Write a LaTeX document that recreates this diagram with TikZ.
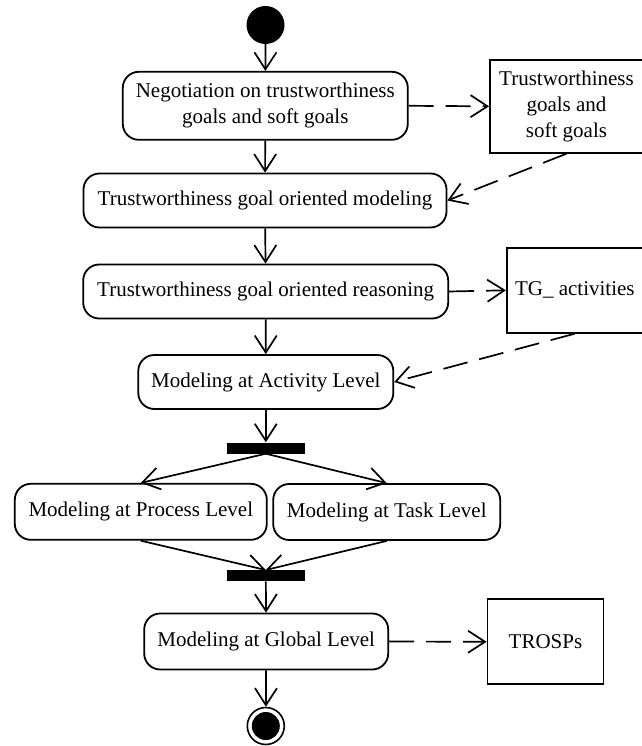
\documentclass[tikz,border=0pt]{standalone}
\usepackage{fontspec}
\setmainfont{Liberation Serif}
\usetikzlibrary{arrows.meta}
\begin{document}
\begin{tikzpicture}[x=1pt,y=-1pt,
  every node/.style={font=\fontsize{21}{26}\selectfont},
  act/.style={draw, line width=1.8pt, rounded corners=16pt, align=center, inner sep=0pt},
  obj/.style={draw, line width=1.8pt, align=center, inner sep=0pt},
  bar/.style={fill=black, inner sep=0pt, minimum width=78pt, minimum height=11pt},
  flow/.style={line width=1.7pt, -{Straight Barb[length=17pt,width=22pt]}},
  dep/.style={flow, dash pattern=on 25pt off 12pt}]
\useasboundingbox (0,0) rectangle (641,746);
% initial and final
\node[circle, fill=black, minimum size=38pt, inner sep=0pt] (start) at (265.5,25) {};
\node[circle, draw, line width=1.6pt, minimum size=37pt, inner sep=0pt] (final) at (265.8,726) {};
\node[circle, fill=black, minimum size=28pt, inner sep=0pt] (finalin) at (265.8,726) {};
% activities
\node[act, minimum width=285pt, minimum height=68pt] (n1) at (265.3,105.8) {Negotiation on trustworthiness\\goals and soft goals};
\node[act, minimum width=363pt, minimum height=54pt] (n2) at (265,200.5) {Trustworthiness goal oriented modeling};
\node[act, minimum width=365pt, minimum height=54pt] (n3) at (265.7,291.5) {Trustworthiness goal oriented reasoning};
\node[act, minimum width=255pt, minimum height=54pt] (n4) at (265.8,382) {Modeling at Activity Level};
\node[bar] (fork) at (265.8,448) {};
\node[act, minimum width=252pt, minimum height=56pt] (np) at (140.8,511.8) {Modeling at Process Level};
\node[act, minimum width=227pt, minimum height=56pt] (nt) at (386.7,512) {Modeling at Task Level};
\node[bar] (join) at (265.8,575.7) {};
\node[act, minimum width=244pt, minimum height=56pt] (ng) at (266.2,641.5) {Modeling at Global Level};
% objects
\node[obj, minimum width=153pt, minimum height=93pt] (tw) at (566.5,106.3) {Trustworthiness\\goals and\\soft goals};
\node[obj, minimum width=136pt, minimum height=85pt] (tg) at (574.8,290.3) {TG\_ activities};
\node[obj, minimum width=116pt, minimum height=85pt] (tr) at (545.5,641.8) {TROSPs};
% control flow
\draw[flow] (start) -- (n1);
\draw[flow] (n1) -- (n2);
\draw[flow] (n2) -- (n3);
\draw[flow] (n3) -- (n4);
\draw[flow] (n4) -- (fork);
\draw[flow] (fork.south) -- (np.north);
\draw[flow] (fork.south) -- (nt.north);
\draw[flow] (np.south) -- (join.north);
\draw[flow] (nt.south) -- (join.north);
\draw[flow] (join) -- (ng);
\draw[flow] (ng) -- (final);
% object flow
\draw[dep] (n1.east) -- (tw.west);
\draw[dep] (tw.south) -- (n2.east);
\draw[dep] (n3.east) -- (tg.west);
\draw[dep] (tg.south) -- (n4.east);
\draw[dep] (ng.east) -- (tr.west);
\end{tikzpicture}
\end{document}
